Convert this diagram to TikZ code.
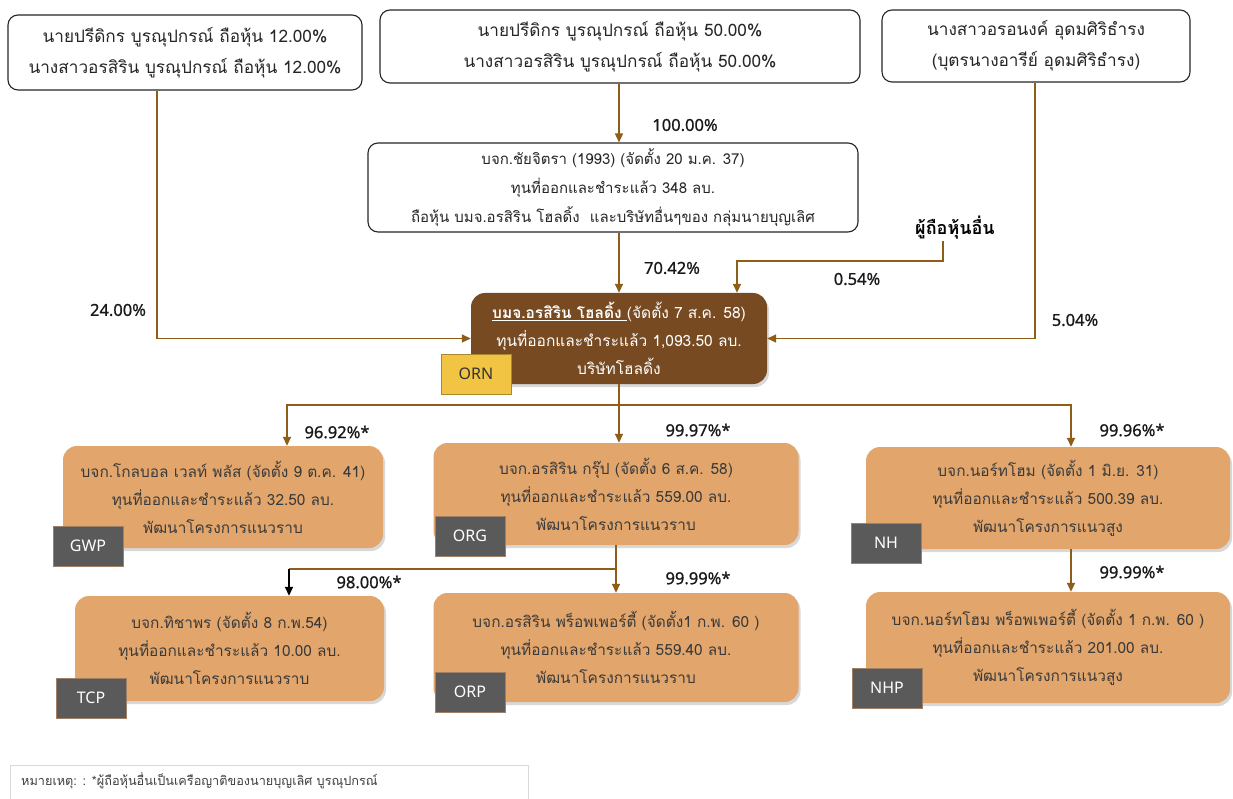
\documentclass[tikz,border=0pt]{standalone}
\usepackage{fontspec}
\usetikzlibrary{shadows,arrows.meta}
\newfontfamily\thai[Script=Thai]{Loma}
\newfontfamily\pct[FakeBold=0.8]{Noto Sans}
\newfontfamily\pctn{Noto Sans}
\definecolor{arrc}{HTML}{8E5D17}
\definecolor{brownbox}{HTML}{774A22}
\definecolor{orangebox}{HTML}{E2A66C}
\definecolor{tagg}{HTML}{5A5A5A}
\definecolor{tagy}{HTML}{F2C444}
\definecolor{txtd}{HTML}{3A3A3A}
\tikzset{
  wbox/.style={draw=black!85, line width=1.1pt, rounded corners=10pt, fill=white, align=center, inner sep=0pt,
    font=\thai\fontsize{17.2}{31}\selectfont, text=black!85},
  obox/.style={fill=orangebox, rounded corners=14pt, align=center, inner sep=0pt,
    font=\thai\fontsize{15.4}{28}\selectfont, text=txtd,
    drop shadow={opacity=0.3, shadow xshift=2pt, shadow yshift=-3pt}},
  bbox/.style={fill=brownbox, rounded corners=14pt, align=center, inner sep=0pt,
    font=\thai\fontsize{15.5}{28}\selectfont, text=white,
    drop shadow={opacity=0.3, shadow xshift=2pt, shadow yshift=-3pt}},
  tag/.style={fill=tagg, draw=brownbox!70, line width=0.8pt, minimum width=70pt, minimum height=40pt,
    inner sep=0pt, font=\pctn\fontsize{16}{18}\selectfont, text=white},
  ytag/.style={tag, fill=tagy, draw=tagy!70!black, text=black!80},
  pl/.style={font=\pct\fontsize{16.5}{18}\selectfont, text=black!90, inner sep=0pt},
  arr/.style={draw=arrc, line width=1.6pt, -{Triangle[length=9pt,width=8pt]}},
  ln/.style={draw=arrc, line width=1.6pt},
  barr/.style={draw=black, line width=1.6pt, -{Triangle[length=9pt,width=8pt]}},
}
\begin{document}
\begin{tikzpicture}[x=1pt,y=-1pt]
\path[use as bounding box, fill=white] (0,0) rectangle (1233,799);

% top boxes
\node[wbox, minimum width=354pt, minimum height=75pt] (tl) at (185,52.5)
  {นายปรีดิกร บูรณุปกรณ์ ถือหุ้น 12.00\%\\นางสาวอรสิริน บูรณุปกรณ์ ถือหุ้น 12.00\%};
\node[wbox, minimum width=480pt, minimum height=73pt] (tm) at (620,46.5)
  {นายปรีดิกร บูรณุปกรณ์ ถือหุ้น 50.00\%\\นางสาวอรสิริน บูรณุปกรณ์ ถือหุ้น 50.00\%};
\node[wbox, minimum width=308pt, minimum height=72pt] (tr) at (1036,46)
  {นางสาวอรอนงค์ อุดมศิริธำรง\\(บุตรนางอารีย์ อุดมศิริธำรง)};

% chaijitra
\node[wbox, font=\thai\fontsize{15}{29}\selectfont, minimum width=490pt, minimum height=89pt] (ch) at (613,187.5)
  {บจก.ชัยจิตรา (1993) (จัดตั้ง 20 ม.ค. 37)\\ทุนที่ออกและชำระแล้ว 348 ลบ.\\ถือหุ้น บมจ.อรสิริน โฮลดิ้ง \ และบริษัทอื่นๆของ กลุ่มนายบุญเลิศ};

% others
\node[font=\thai\bfseries\fontsize{18}{20}\selectfont, inner sep=1pt] (oth) at (955,228) {ผู้ถือหุ้นอื่น};

% ORN
\node[bbox, minimum width=296pt, minimum height=91pt] (orn) at (619,338.5)
  {\underline{\textbf{บมจ.อรสิริน โฮลดิ้ง }}(จัดตั้ง 7 ส.ค. 58)\\ทุนที่ออกและชำระแล้ว 1,093.50 ลบ.\\บริษัทโฮลดิ้ง};
\node[ytag] (ornt) at (476,374) {ORN};

% second level
\node[obox, minimum width=320pt, minimum height=102pt] (gwp) at (223,497)
  {บจก.โกลบอล เวลท์ พลัส (จัดตั้ง 9 ต.ค. 41)\\ทุนที่ออกและชำระแล้ว 32.50 ลบ.\\พัฒนาโครงการแนวราบ};
\node[tag] (gwpt) at (88,546) {GWP};
\node[obox, minimum width=365pt, minimum height=102pt] (org) at (616,494)
  {บจก.อรสิริน กรุ๊ป (จัดตั้ง 6 ส.ค. 58)\\ทุนที่ออกและชำระแล้ว 559.00 ลบ.\\พัฒนาโครงการแนวราบ};
\node[tag] (orgt) at (470,536) {ORG};
\node[obox, minimum width=364pt, minimum height=102pt] (nh) at (1048,498)
  {บจก.นอร์ทโฮม (จัดตั้ง 1 มิ.ย. 31)\\ทุนที่ออกและชำระแล้ว 500.39 ลบ.\\พัฒนาโครงการแนวสูง};
\node[tag] (nht) at (886,543) {NH};

% third level
\node[obox, minimum width=309pt, minimum height=105pt] (tcp) at (229.5,648.5)
  {บจก.ทิชาพร (จัดตั้ง 8 ก.พ.54)\\ทุนที่ออกและชำระแล้ว 10.00 ลบ.\\พัฒนาโครงการแนวราบ};
\node[tag] (tcpt) at (91,698) {TCP};
\node[obox, minimum width=365pt, minimum height=109pt] (orp) at (616,647.5)
  {บจก.อรสิริน พร็อพเพอร์ตี้ (จัดตั้ง1 ก.พ. 60 )\\ทุนที่ออกและชำระแล้ว 559.40 ลบ.\\พัฒนาโครงการแนวราบ};
\node[tag] (orpt) at (470,692) {ORP};
\node[obox, minimum width=364pt, minimum height=111pt] (nhp) at (1048,647.5)
  {บจก.นอร์ทโฮม พร็อพเพอร์ตี้ (จัดตั้ง 1 ก.พ. 60 )\\ทุนที่ออกและชำระแล้ว 201.00 ลบ.\\พัฒนาโครงการแนวสูง};
\node[tag] (nhpt) at (887,688) {NHP};

% connectors top
\draw[arr] (tm.south -| orn.north) -- (ch.north -| orn.north);
\draw[arr] (ch.south -| orn.north) -- (orn.north);
\draw[arr] ([xshift=-28pt]tl.south) |- (orn.west);
\draw[arr] ([xshift=-1pt]tr.south) |- (orn.east);
\coordinate (oc) at (737,261);
\draw[arr] ([xshift=-12pt]oth.south) |- (oc) -- (oc |- orn.north);

% connectors ORN -> children
\coordinate (jg) at (287,405);
\coordinate (jn) at (1071,405);
\draw[arr] (orn.south) -- (orn.south |- org.north);
\draw[arr] (orn.south |- jg) -| (jg |- gwp.north);
\draw[arr] (orn.south |- jn) -| (jn |- nh.north);

% ORG -> children
\coordinate (jt) at (289,569);
\draw[arr] (org.south) -- (orp.north);
\draw[ln] (org.south |- jt) -- (jt);
\draw[barr] (jt) -- (jt |- tcp.north);

% NH -> NHP
\draw[arr] (jn |- nh.south) -- (jn |- nhp.north);

% labels
\node[pl] (p100) at (685,125) {100.00\%};
\node[pl] (p70) at (672,268) {70.42\%};
\node[pl] (p054) at (857,279) {0.54\%};
\node[pl] (p24) at (118,310) {24.00\%};
\node[pl] (p504) at (1075,320) {5.04\%};
\node[pl] (p9692) at (337,432) {96.92\%*};
\node[pl] (p9997) at (698,430) {99.97\%*};
\node[pl] (p9996) at (1132,430) {99.96\%*};
\node[pl] (p98) at (369,582) {98.00\%*};
\node[pl] (p9999a) at (698,578) {99.99\%*};
\node[pl] (p9999b) at (1132,572) {99.99\%*};

% footnote
\node[draw=black!15, line width=0.6pt, minimum width=518pt, minimum height=38pt, anchor=north west,
  inner sep=0pt] (fnbox) at (10,765) {};
\node[font=\thai\fontsize{12.7}{14}\selectfont, text=black!75, anchor=west, inner sep=0pt] (fn) at (21,781)
  {หมายเหตุ: : *ผู้ถือหุ้นอื่นเป็นเครือญาติของนายบุญเลิศ บูรณุปกรณ์};
\end{tikzpicture}
\end{document}
